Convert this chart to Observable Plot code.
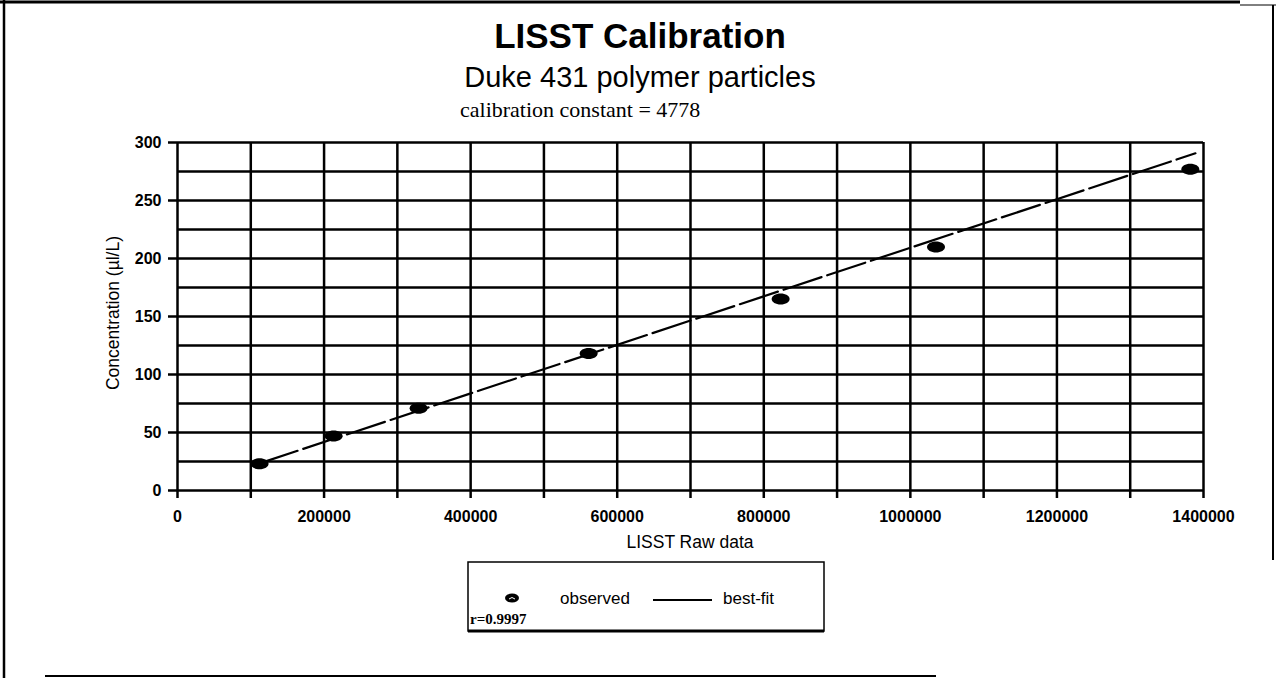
<!DOCTYPE html>
<html>
<head>
<meta charset="utf-8">
<script src="https://cdn.jsdelivr.net/npm/d3@7"></script>
<script src="https://cdn.jsdelivr.net/npm/@observablehq/plot@0.6"></script>
<style>
  html, body { margin: 0; padding: 0; background: #fff; }
  #page { position: relative; width: 1276px; height: 678px; overflow: hidden; background: #fff; }
  #page > svg { position: absolute; left: 0; top: 0; }
</style>
</head>
<body>
<div id="page"></div>
<script>
// ---- data ----
const rawData       = [112000, 213000, 329000, 561000, 823000, 1035000, 1382000];
const concentration = [23, 47, 71, 118, 165, 210, 277];
const fitX = [112000, 1389000];
const fitY = [23.4, 290.7];
const xTicks = [0, 100000, 200000, 300000, 400000, 500000, 600000, 700000, 800000, 900000, 1000000, 1100000, 1200000, 1300000, 1400000];
const xLabels = [0, 200000, 400000, 600000, 800000, 1000000, 1200000, 1400000];
const yGrid = [0, 25, 50, 75, 100, 125, 150, 175, 200, 225, 250, 275, 300];
const yTicks = [0, 50, 100, 150, 200, 250, 300];

const titleText = "LISST Calibration";
const subtitleText = "Duke 431 polymer particles";
const constText = "calibration constant = 4778";
const xLabelText = "LISST Raw data";
const yLabelText = "Concentration (µl/L)";
const legendObserved = "observed";
const legendFit = "best-fit";
const legendR = "r=0.9997";

const observed = rawData.map((x, i) => ({x, y: concentration[i]}));
const fit = fitX.map((x, i) => ({x, y: fitY[i]}));

// ellipse-shaped symbol for observed points
function ellipseSymbol(rx, ry) {
  const k = 0.5523;
  return {
    draw(ctx) {
      ctx.moveTo(rx, 0);
      ctx.bezierCurveTo(rx, ry * k, rx * k, ry, 0, ry);
      ctx.bezierCurveTo(-rx * k, ry, -rx, ry * k, -rx, 0);
      ctx.bezierCurveTo(-rx, -ry * k, -rx * k, -ry, 0, -ry);
      ctx.bezierCurveTo(rx * k, -ry, rx, -ry * k, rx, 0);
      ctx.closePath();
    }
  };
}

const sans = "'Liberation Sans', Arial, Helvetica, sans-serif";
const serif = "'Liberation Serif', 'Times New Roman', serif";

const chart = Plot.plot({
  width: 1276,
  height: 678,
  marginLeft: 177,
  marginRight: 73,
  marginTop: 142,
  marginBottom: 188,
  style: {fontFamily: sans, fontSize: "16px", fontWeight: "bold", color: "black", background: "transparent", overflow: "visible"},
  x: {domain: [0, 1400000]},
  y: {domain: [0, 300]},
  marks: [
    Plot.ruleX(xTicks, {stroke: "black", strokeWidth: 2.5}),
    Plot.ruleY(yGrid, {stroke: "black", strokeWidth: 2.5}),
    Plot.axisX(xTicks, {
      tickSize: 8, tickPadding: 12, strokeWidth: 2.5, label: null,
      tickFormat: d => xLabels.includes(d) ? String(d) : ""
    }),
    Plot.axisY(yTicks, {
      tickSize: 9, tickPadding: 7, strokeWidth: 2.5, label: null,
      tickFormat: d => String(d)
    }),
    Plot.line(fit, {x: "x", y: "y", stroke: "black", strokeWidth: 2.2, strokeDasharray: "40,6"}),
    Plot.dot(observed, {x: "x", y: "y", symbol: ellipseSymbol(9, 5.5), r: 5, fill: "black", stroke: "none"})
  ]
});

const page = document.getElementById("page");
page.appendChild(chart);

// overlay: titles, axis labels, legend, page border
const ov = d3.select(page).append("svg")
  .attr("width", 1276).attr("height", 678)
  .style("position", "absolute").style("left", 0).style("top", 0);

ov.append("text").attr("x", 640).attr("y", 48).attr("text-anchor", "middle")
  .style("font-family", sans).style("font-size", "35px").style("font-weight", "bold").text(titleText);
ov.append("text").attr("x", 640).attr("y", 87).attr("text-anchor", "middle")
  .style("font-family", sans).style("font-size", "29px").text(subtitleText);
ov.append("text").attr("x", 460).attr("y", 117)
  .style("font-family", serif).style("font-size", "22px").text(constText);

ov.append("text").attr("x", 690).attr("y", 548).attr("text-anchor", "middle")
  .style("font-family", sans).style("font-size", "17.5px").text(xLabelText);
ov.append("text").attr("transform", "translate(119,313) rotate(-90)").attr("text-anchor", "middle")
  .style("font-family", sans).style("font-size", "17.5px").text(yLabelText);

// legend box
ov.append("rect").attr("x", 468).attr("y", 562).attr("width", 356).attr("height", 69)
  .attr("fill", "none").attr("stroke", "black").attr("stroke-width", 1.5);
ov.append("line").attr("x1", 468).attr("x2", 824).attr("y1", 631).attr("y2", 631)
  .attr("stroke", "black").attr("stroke-width", 3);
ov.append("ellipse").attr("cx", 512).attr("cy", 598).attr("rx", 7).attr("ry", 4.5).attr("fill", "black");
ov.append("path").attr("d", "M509,599 Q512,596 515,599").attr("fill", "none").attr("stroke", "white").attr("stroke-width", 1);
ov.append("text").attr("x", 560).attr("y", 604)
  .style("font-family", sans).style("font-size", "17px").text(legendObserved);
ov.append("line").attr("x1", 653).attr("x2", 712).attr("y1", 600).attr("y2", 600)
  .attr("stroke", "black").attr("stroke-width", 2.2);
ov.append("text").attr("x", 723).attr("y", 604)
  .style("font-family", sans).style("font-size", "17px").text(legendFit);
ov.append("text").attr("x", 470).attr("y", 624)
  .style("font-family", serif).style("font-size", "15px").style("font-weight", "bold").text(legendR);

// page border (scanned frame)
ov.append("line").attr("x1", 0).attr("x2", 1240).attr("y1", 2).attr("y2", 2).attr("stroke", "black").attr("stroke-width", 3);
ov.append("line").attr("x1", 1240).attr("x2", 1276).attr("y1", 5).attr("y2", 5).attr("stroke", "black").attr("stroke-width", 1);
ov.append("line").attr("x1", 4).attr("x2", 4).attr("y1", 0).attr("y2", 678).attr("stroke", "black").attr("stroke-width", 2.5);
ov.append("line").attr("x1", 1273).attr("x2", 1273).attr("y1", 5).attr("y2", 560).attr("stroke", "black").attr("stroke-width", 2);
ov.append("line").attr("x1", 45).attr("x2", 936).attr("y1", 676).attr("y2", 676).attr("stroke", "black").attr("stroke-width", 2);
</script>
</body>
</html>
